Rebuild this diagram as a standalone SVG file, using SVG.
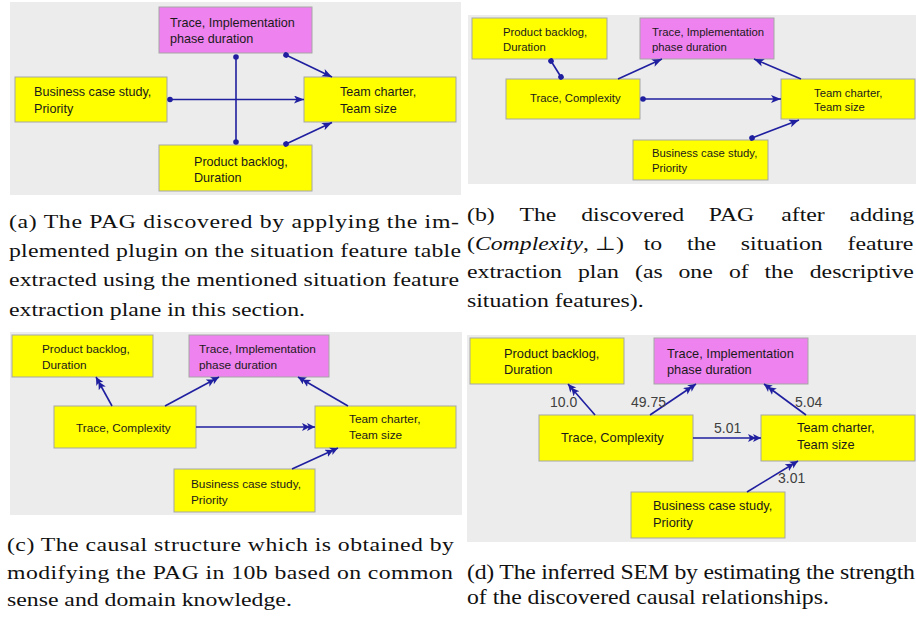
<svg xmlns="http://www.w3.org/2000/svg" width="916" height="618" viewBox="0 0 916 618">
<defs>
<style>
.bg{fill:#ececec}
.y{fill:#ffff00;stroke:#a6a6a6;stroke-width:1}
.p{fill:#ee82ee;stroke:#a6a6a6;stroke-width:1}
.n{font-family:"Liberation Sans",Arial,sans-serif;fill:#1a1a1a}
.fa{font-size:12.6px}
.fb{font-size:11.3px}
.fc{font-size:11.8px}
.fd{font-size:12.8px}
.e{fill:none;stroke:#1f1fa0;stroke-width:1.6}
.s1{marker-end:url(#arr)}
.s2{marker-end:url(#arr2)}
.ds{marker-start:url(#dot)}
.de{marker-end:url(#dot)}
.lbl{font-family:"Liberation Sans",Arial,sans-serif;font-size:14px;fill:#404040}
.cap{font-family:"Liberation Serif","Times New Roman",serif;fill:#111}
</style>
<marker id="arr" markerUnits="userSpaceOnUse" markerWidth="12" markerHeight="10" refX="10" refY="4" orient="auto">
<path d="M0,0 L10,4 L0,8 L2.5,4 Z" fill="#1f1fa0"/>
</marker>
<marker id="arr2" markerUnits="userSpaceOnUse" markerWidth="16" markerHeight="10" refX="13" refY="4" orient="auto">
<path d="M0,0 L8,4 L0,8 L2,4 Z M5,0 L13,4 L5,8 L7,4 Z" fill="#1f1fa0"/>
</marker>
<marker id="dot" markerUnits="userSpaceOnUse" markerWidth="8" markerHeight="8" refX="4" refY="4" orient="auto">
<circle cx="4" cy="4" r="2.8" fill="#1f1fa0"/>
</marker>
</defs>

<!-- Panel backgrounds -->
<rect class="bg" x="10" y="2" width="451" height="193"/>
<rect class="bg" x="468" y="15" width="448" height="169"/>
<rect class="bg" x="10" y="332" width="452" height="183"/>
<rect class="bg" x="467" y="335" width="449" height="207"/>

<!-- Panel (a) nodes -->
<g id="a-impl"><rect class="p" x="159" y="7" width="153" height="46"/><text class="n fa" x="170" y="27">Trace, Implementation<tspan x="170" y="43">phase duration</tspan></text></g>
<g id="a-business"><rect class="y" x="15" y="77" width="152" height="45"/><text class="n fa" x="34" y="96">Business case study,<tspan x="34" y="113">Priority</tspan></text></g>
<g id="a-team"><rect class="y" x="304" y="77" width="152" height="45"/><text class="n fa" x="340" y="96">Team charter,<tspan x="340" y="113">Team size</tspan></text></g>
<g id="a-backlog"><rect class="y" x="159" y="145" width="153" height="46"/><text class="n fa" x="194" y="166">Product backlog,<tspan x="194" y="182">Duration</tspan></text></g>

<!-- Panel (b) nodes -->
<g id="b-backlog"><rect class="y" x="472" y="18" width="135" height="41"/><text class="n fb" x="503" y="36">Product backlog,<tspan x="503" y="51">Duration</tspan></text></g>
<g id="b-impl"><rect class="p" x="640" y="18" width="134" height="41"/><text class="n fb" x="652" y="36">Trace, Implementation<tspan x="652" y="51">phase duration</tspan></text></g>
<g id="b-complexity"><rect class="y" x="506" y="79" width="134" height="40"/><text class="n fb" x="530" y="102">Trace, Complexity</text></g>
<g id="b-team"><rect class="y" x="781" y="79" width="134" height="40"/><text class="n fb" x="814" y="97">Team charter,<tspan x="814" y="111">Team size</tspan></text></g>
<g id="b-business"><rect class="y" x="633" y="140" width="135" height="40"/><text class="n fb" x="652" y="157">Business case study,<tspan x="652" y="172">Priority</tspan></text></g>

<!-- Panel (c) nodes -->
<g id="c-backlog"><rect class="y" x="12" y="335" width="141" height="42"/><text class="n fc" x="42" y="353">Product backlog,<tspan x="42" y="369">Duration</tspan></text></g>
<g id="c-impl"><rect class="p" x="189" y="335" width="140" height="42"/><text class="n fc" x="199" y="353">Trace, Implementation<tspan x="199" y="369">phase duration</tspan></text></g>
<g id="c-complexity"><rect class="y" x="54" y="406" width="142" height="42"/><text class="n fc" x="76" y="432">Trace, Complexity</text></g>
<g id="c-team"><rect class="y" x="315" y="406" width="141" height="42"/><text class="n fc" x="349" y="423">Team charter,<tspan x="349" y="439">Team size</tspan></text></g>
<g id="c-business"><rect class="y" x="174" y="469" width="141" height="43"/><text class="n fc" x="191" y="488">Business case study,<tspan x="191" y="504">Priority</tspan></text></g>

<!-- Panel (d) nodes -->
<g id="d-backlog"><rect class="y" x="470" y="338" width="154" height="46"/><text class="n fd" x="504" y="358">Product backlog,<tspan x="504" y="374">Duration</tspan></text></g>
<g id="d-impl"><rect class="p" x="654" y="338" width="154" height="46"/><text class="n fd" x="667" y="358">Trace, Implementation<tspan x="667" y="374">phase duration</tspan></text></g>
<g id="d-complexity"><rect class="y" x="539" y="415" width="154" height="46"/><text class="n fd" x="561" y="442">Trace, Complexity</text></g>
<g id="d-team"><rect class="y" x="761" y="415" width="154" height="46"/><text class="n fd" x="797" y="432">Team charter,<tspan x="797" y="449">Team size</tspan></text></g>
<g id="d-business"><rect class="y" x="631" y="492" width="154" height="46"/><text class="n fd" x="653" y="510">Business case study,<tspan x="653" y="527">Priority</tspan></text></g>

<!-- Connectors -->
<g id="connectors">
<path class="e ds de" d="M236,57 L236,142"/>
<path class="e ds s1" d="M170,99.5 L304,99.5"/>
<path class="e ds s1" d="M286,55 L332,77"/>
<path class="e ds s1" d="M286,144 L332,122.5"/>

<path class="e ds de" d="M551,61 L561,77"/>
<path class="e s1" d="M618,79 L662,59"/>
<path class="e s1" d="M801,79 L754,59"/>
<path class="e ds s1" d="M643,99 L781,99"/>
<path class="e ds s1" d="M752,138 L799,120"/>

<path class="e s2" d="M112,406 L96,377"/>
<path class="e s2" d="M165,406 L219,377"/>
<path class="e s2" d="M348,406 L298,377"/>
<path class="e s2" d="M196,427 L315,427"/>
<path class="e s2" d="M292,469 L338,448"/>

<path class="e s2" d="M595,415 L568,384"/>
<path class="e s2" d="M650,415 L696,384"/>
<path class="e s2" d="M806,415 L764,384"/>
<path class="e s2" d="M693,438 L761,438"/>
<path class="e s2" d="M747,492 L798,461"/>

<text class="lbl" x="550" y="407">10.0</text>
<text class="lbl" x="631" y="407">49.75</text>
<text class="lbl" x="795" y="407">5.04</text>
<text class="lbl" x="714" y="433">5.01</text>
<text class="lbl" x="778" y="483">3.01</text>
</g>

<!-- Captions -->
<g class="cap" font-size="19" transform="scale(1.25,1)">
<text x="7.2" y="228" textLength="360" lengthAdjust="spacing">(a) The PAG discovered by applying the im-</text>
<text x="7.2" y="257" textLength="361.6" lengthAdjust="spacing">plemented plugin on the situation feature table</text>
<text x="7.2" y="286" textLength="360" lengthAdjust="spacing">extracted using the mentioned situation feature</text>
<text x="7.2" y="316">extraction plane in this section.</text>

<text y="221"><tspan x="373.6">(b)</tspan><tspan x="415.6">The</tspan><tspan x="465">discovered</tspan><tspan x="567.1">PAG</tspan><tspan x="625">after</tspan><tspan x="679.7">adding</tspan></text>
<text y="250"><tspan x="373.6">(<tspan font-style="italic">Complexity</tspan>, ⊥)</tspan><tspan x="515">to</tspan><tspan x="549.7">the</tspan><tspan x="592.7">situation</tspan><tspan x="678">feature</tspan></text>
<text y="278"><tspan x="373.6">extraction</tspan><tspan x="462.4">plan</tspan><tspan x="508">(as</tspan><tspan x="542.8">one</tspan><tspan x="583.2">of</tspan><tspan x="611.6">the</tspan><tspan x="647.8">descriptive</tspan></text>
<text x="373.6" y="307">situation features).</text>

<text x="5.6" y="551" textLength="357.6" lengthAdjust="spacing">(c) The causal structure which is obtained by</text>
<text x="5.6" y="579" textLength="356.8" lengthAdjust="spacing">modifying the PAG in 10b based on common</text>
<text x="5.6" y="606">sense and domain knowledge.</text>
</g>
<g class="cap" font-size="22" transform="scale(1.08,1)">
<text x="432.4" y="579" textLength="414.8" lengthAdjust="spacing">(d) The inferred SEM by estimating the strength</text>
<text x="432.4" y="604">of the discovered causal relationships.</text>
</g>
</svg>
